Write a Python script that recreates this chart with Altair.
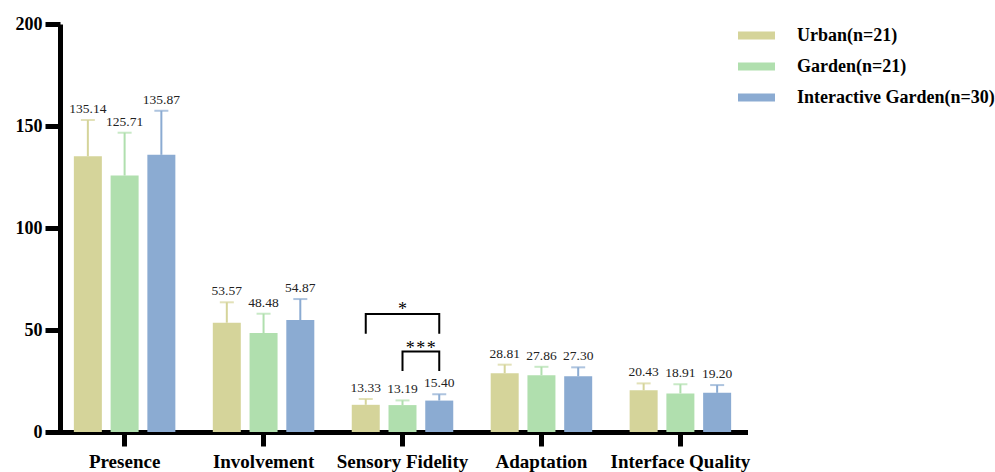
import altair as alt
import pandas as pd

# Scale means and standard deviations per group
categories = ["Presence", "Involvement", "Sensory Fidelity", "Adaptation", "Interface Quality"]
groups = ["Urban(n=21)", "Garden(n=21)", "Interactive Garden(n=30)"]
colors = ["#d5d49a", "#b0dfae", "#8babd2"]

urban_mean = [135.14, 53.57, 13.33, 28.81, 20.43]
garden_mean = [125.71, 48.48, 13.19, 27.86, 18.91]
inter_mean = [135.87, 54.87, 15.40, 27.30, 19.20]

urban_sd = [17.8, 10.0, 2.85, 4.2, 3.4]
garden_sd = [21.0, 9.5, 2.3, 4.1, 4.5]
inter_sd = [21.6, 10.3, 3.1, 4.4, 3.8]

y_ticks = [0, 50, 100, 150, 200]

# Significance brackets within Sensory Fidelity: (label, left group, right group, low, high)
bracket_labels = ["*", "*\u200a*\u200a*"]
bracket_left = ["Urban(n=21)", "Garden(n=21)"]
bracket_right = ["Interactive Garden(n=30)", "Interactive Garden(n=30)"]
bracket_low = [48.7, 30.4]
bracket_high = [57.8, 39.4]
bracket_text_group = ["Garden(n=21)", "Interactive Garden(n=30)"]
bracket_text_shift = [0, 1]

rows = []
for g, means, sds in zip(groups, [urban_mean, garden_mean, inter_mean], [urban_sd, garden_sd, inter_sd]):
    for c, m, s in zip(categories, means, sds):
        rows.append({"category": c, "group": g, "mean": m, "upper": m + s, "label": f"{m:.2f}"})
df = pd.DataFrame(rows)

path_rows = []
for i, (lg, rg, lo, hi) in enumerate(zip(bracket_left, bracket_right, bracket_low, bracket_high)):
    pts = [(lg, lo), (lg, hi), (rg, hi), (rg, lo)]
    for k, (g, v) in enumerate(pts):
        path_rows.append({"category": "Sensory Fidelity", "group": g, "value": v, "bracket": i, "seq": k})
bracket_df = pd.DataFrame(path_rows)

star_df = pd.DataFrame({
    "category": ["Sensory Fidelity"] * len(bracket_labels),
    "group": bracket_text_group,
    "value": bracket_high,
    "text": bracket_labels,
    "shift": bracket_text_shift,
})

serif = "Liberation Serif"

x_enc = alt.X(
    "category:N",
    sort=categories,
    scale=alt.Scale(paddingInner=0.27, paddingOuter=0.1),
    axis=alt.Axis(
        title=None, labelAngle=0, labelFont=serif, labelFontSize=19, labelFontWeight="bold",
        labelColor="black", domainColor="black", domainWidth=5, tickColor="black",
        tickWidth=5, tickSize=14, labelPadding=6, grid=False, domainCap="square",
    ),
)
xoff = alt.XOffset("group:N", sort=groups, scale=alt.Scale(paddingInner=0.24, paddingOuter=0))
y_scale = alt.Scale(domain=[0, 200], nice=False)

color = alt.Color(
    "group:N", sort=groups, scale=alt.Scale(domain=groups, range=colors),
    legend=alt.Legend(
        title=None, orient="none", legendX=678, legendY=-7,
        symbolType="M-1,-0.22H1V0.22H-1Z", symbolSize=1369, symbolStrokeWidth=0,
        symbolOpacity=1, labelFont=serif, labelFontSize=18, labelFontWeight="bold",
        labelColor="black", labelOffset=22, rowPadding=3, labelLimit=400,
    ),
)

bars = alt.Chart(df).mark_bar(size=28).encode(
    x=x_enc,
    xOffset=xoff,
    y=alt.Y(
        "mean:Q", scale=y_scale,
        axis=alt.Axis(
            title=None, values=y_ticks, labelFont=serif, labelFontSize=18, labelFontWeight="bold",
            labelColor="black", domainColor="black", domainWidth=5, tickColor="black",
            tickWidth=5, tickSize=15, labelPadding=3, grid=False,
        ),
    ),
    color=color,
)

err = alt.Chart(df).mark_rule(strokeWidth=2).encode(
    x=alt.X("category:N", sort=categories),
    xOffset=xoff,
    y="mean:Q",
    y2="upper:Q",
    color=alt.Color("group:N", sort=groups, scale=alt.Scale(domain=groups, range=colors), legend=None),
)

caps = alt.Chart(df).mark_tick(size=14, thickness=2).encode(
    x=alt.X("category:N", sort=categories),
    xOffset=xoff,
    y="upper:Q",
    color=alt.Color("group:N", sort=groups, scale=alt.Scale(domain=groups, range=colors), legend=None),
)

labels = alt.Chart(df).mark_text(
    font=serif, fontSize=13.5, color="#222222", baseline="alphabetic", dy=-7
).encode(
    x=alt.X("category:N", sort=categories),
    xOffset=xoff,
    y="upper:Q",
    text="label:N",
)

brackets = alt.Chart(bracket_df).mark_line(color="black", strokeWidth=2, strokeCap="square").encode(
    x=alt.X("category:N", sort=categories),
    xOffset=alt.XOffset("group:N", sort=groups),
    y="value:Q",
    detail="bracket:N",
    order="seq:Q",
)

stars = alt.Chart(star_df).encode(
    x=alt.X("category:N", sort=categories),
    xOffset=alt.XOffset("group:N", sort=groups),
    y="value:Q",
    text="text:N",
)

# single star centred over the middle bar; triple star centred between the two right bars
star1 = stars.transform_filter(alt.datum.shift == 0).mark_text(
    font=serif, fontSize=18, color="black", baseline="alphabetic", dy=1
)
star2 = stars.transform_filter(alt.datum.shift != 0).mark_text(
    font=serif, fontSize=18, color="black", baseline="alphabetic", dy=2, dx=-18.5
)

chart = alt.layer(bars, err, caps, labels, brackets, star1, star2).properties(
    width=685,
    height=408,
    autosize=alt.AutoSizeParams(type="none"),
    padding={"left": 60, "top": 24, "right": 250, "bottom": 40},
    background="white",
).configure_view(stroke=None)

chart.save("out.html", embed_options={"renderer": "svg", "actions": False})
